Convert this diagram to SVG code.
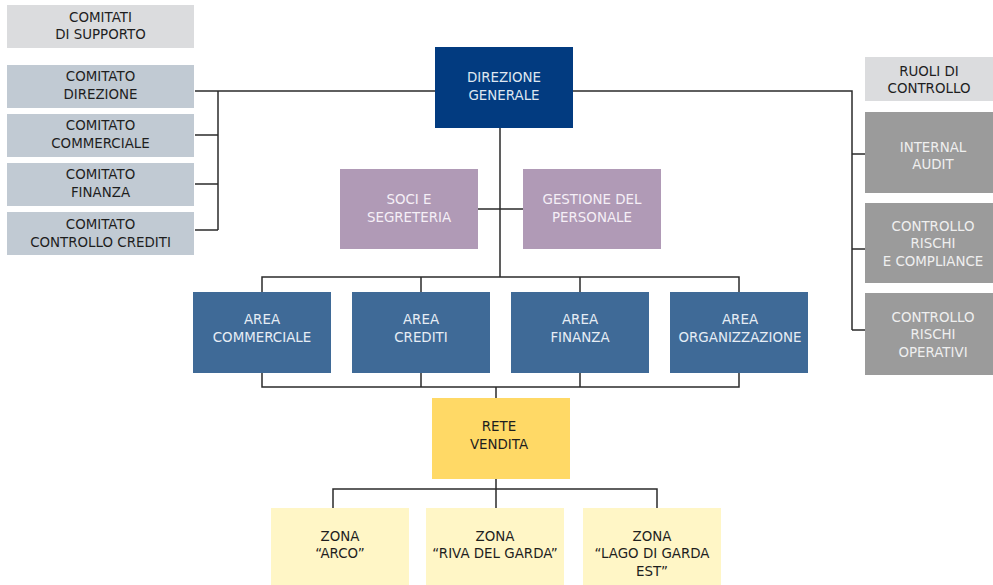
<svg xmlns="http://www.w3.org/2000/svg" width="993" height="585" viewBox="0 0 993 585">
<style>
text{font-family:"DejaVu Sans","Liberation Sans",sans-serif;font-size:13.4px;text-anchor:middle}
.lg{fill:#dbdcde}.lt{fill:#1e1e1e}
.cm{fill:#c1cad3}
.dg{fill:#023b80}.dgt{fill:#dfe7f1}
.ar{fill:#3f6a97}.art{fill:#e6edf5}
.mv{fill:#b09ab6}.mvt{fill:#f5eff6}
.gr{fill:#9b9b9b}.grt{fill:#efefef}
.yl{fill:#ffd966}
.zn{fill:#fff6c6}
.conn{fill:none;stroke:#2b2b2b;stroke-width:1.5}
</style>
<g id="connectors" class="conn">
<path d="M195 91H435M218 91V230M195 135H218M195 184H218M195 230H218"/>
<path d="M573 91H852V330M852 154H865M852 249H865M852 330H865"/>
<path d="M500 128V277M478 209H523"/>
<path d="M262 292V277H739V292M421 277V292M580 277V292"/>
<path d="M262 373V387H739V373M421 373V387M580 373V387M496 387V398"/>
<path d="M496 479V508M333 508V489H657V508"/>
</g>
<g id="comitati-supporto"><rect class="lg" x="7" y="5" width="187" height="43"/><text class="lt" x="100.5" y="22">COMITATI</text><text class="lt" x="100.5" y="39">DI SUPPORTO</text></g>
<g id="comitato-direzione"><rect class="cm" x="7" y="65" width="187" height="43"/><text class="lt" x="100.5" y="81">COMITATO</text><text class="lt" x="100.5" y="98.5">DIREZIONE</text></g>
<g id="comitato-commerciale"><rect class="cm" x="7" y="114" width="187" height="43"/><text class="lt" x="100.5" y="130">COMITATO</text><text class="lt" x="100.5" y="147.5">COMMERCIALE</text></g>
<g id="comitato-finanza"><rect class="cm" x="7" y="163" width="187" height="43"/><text class="lt" x="100.5" y="179">COMITATO</text><text class="lt" x="100.5" y="196.5">FINANZA</text></g>
<g id="comitato-controllo-crediti"><rect class="cm" x="7" y="212" width="187" height="43"/><text class="lt" x="100.5" y="229">COMITATO</text><text class="lt" x="100.5" y="246.5">CONTROLLO CREDITI</text></g>
<g id="direzione-generale"><rect class="dg" x="435" y="47" width="138" height="81"/><text class="dgt" x="504" y="82">DIREZIONE</text><text class="dgt" x="504" y="99.5">GENERALE</text></g>
<g id="ruoli-controllo"><rect class="lg" x="865" y="57" width="128" height="44"/><text class="lt" x="929" y="76">RUOLI DI</text><text class="lt" x="929" y="93">CONTROLLO</text></g>
<g id="internal-audit"><rect class="gr" x="865" y="112" width="128" height="81"/><text class="grt" x="933" y="151.5">INTERNAL</text><text class="grt" x="933" y="169">AUDIT</text></g>
<g id="controllo-rischi-compliance"><rect class="gr" x="865" y="203" width="128" height="80"/><text class="grt" x="933" y="230.5">CONTROLLO</text><text class="grt" x="933" y="248">RISCHI</text><text class="grt" x="933" y="265.5">E COMPLIANCE</text></g>
<g id="controllo-rischi-operativi"><rect class="gr" x="865" y="293" width="128" height="82"/><text class="grt" x="933" y="321.5">CONTROLLO</text><text class="grt" x="933" y="339">RISCHI</text><text class="grt" x="933" y="356.5">OPERATIVI</text></g>
<g id="soci-segreteria"><rect class="mv" x="340" y="169" width="138" height="80"/><text class="mvt" x="409" y="204">SOCI E</text><text class="mvt" x="409" y="221.5">SEGRETERIA</text></g>
<g id="gestione-personale"><rect class="mv" x="523" y="169" width="138" height="80"/><text class="mvt" x="592" y="204">GESTIONE DEL</text><text class="mvt" x="592" y="221.5">PERSONALE</text></g>
<g id="area-commerciale"><rect class="ar" x="193" y="292" width="138" height="81"/><text class="art" x="262" y="324">AREA</text><text class="art" x="262" y="341.5">COMMERCIALE</text></g>
<g id="area-crediti"><rect class="ar" x="352" y="292" width="138" height="81"/><text class="art" x="421" y="324">AREA</text><text class="art" x="421" y="341.5">CREDITI</text></g>
<g id="area-finanza"><rect class="ar" x="511" y="292" width="138" height="81"/><text class="art" x="580" y="324">AREA</text><text class="art" x="580" y="341.5">FINANZA</text></g>
<g id="area-organizzazione"><rect class="ar" x="670" y="292" width="138" height="81"/><text class="art" x="740" y="324">AREA</text><text class="art" x="740" y="341.5">ORGANIZZAZIONE</text></g>
<g id="rete-vendita"><rect class="yl" x="432" y="398" width="138" height="81"/><text class="lt" x="499" y="430.5">RETE</text><text class="lt" x="499" y="448.5">VENDITA</text></g>
<g id="zona-arco"><rect class="zn" x="271" y="508" width="138" height="77"/><text class="lt" x="340" y="540.5">ZONA</text><text class="lt" x="340" y="558">“ARCO”</text></g>
<g id="zona-riva"><rect class="zn" x="426" y="508" width="138" height="77"/><text class="lt" x="495" y="540.5">ZONA</text><text class="lt" x="495" y="558">“RIVA DEL GARDA”</text></g>
<g id="zona-lago"><rect class="zn" x="583" y="508" width="138" height="77"/><text class="lt" x="652" y="540.5">ZONA</text><text class="lt" x="652" y="558">“LAGO DI GARDA</text><text class="lt" x="652" y="575.5">EST”</text></g>
</svg>
